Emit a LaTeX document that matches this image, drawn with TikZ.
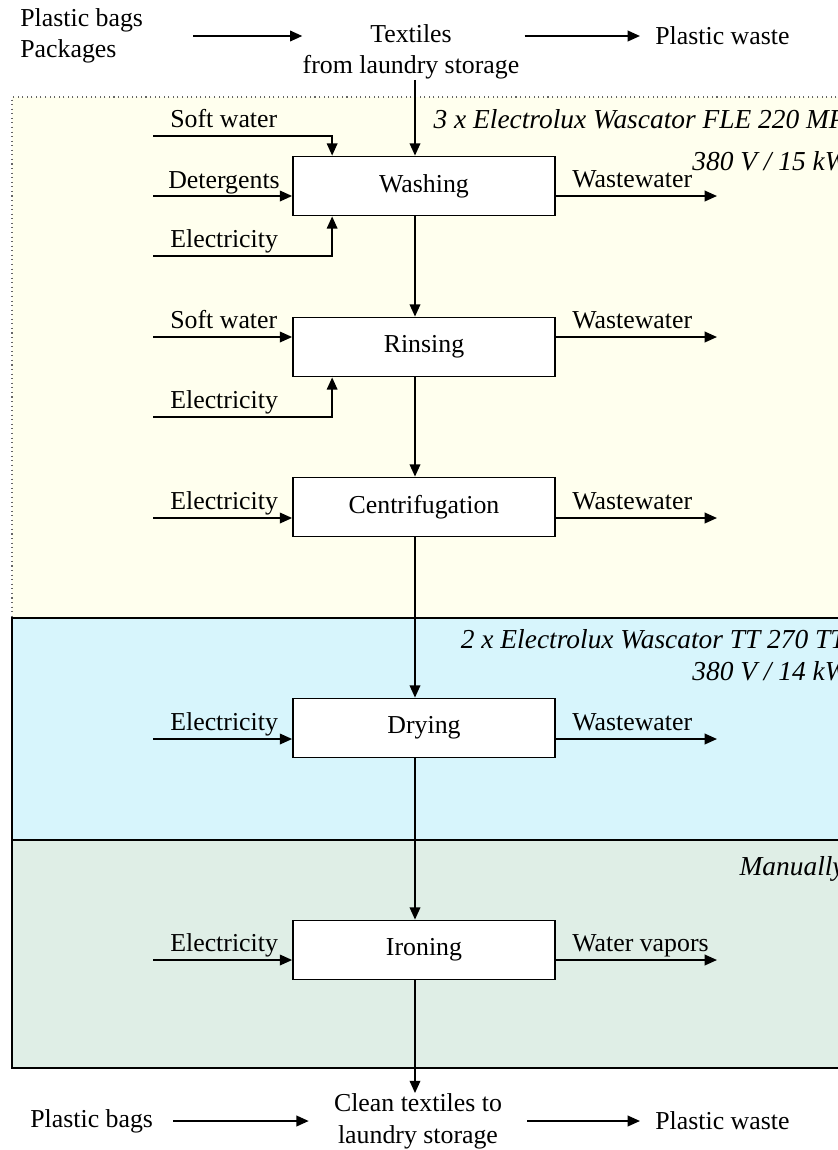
\documentclass[tikz,border=0pt]{standalone}
\usepackage{fontspec}
\setmainfont{Liberation Serif}
\usetikzlibrary{arrows.meta,positioning}
\definecolor{zoneWash}{RGB}{255,255,238}
\definecolor{zoneDry}{RGB}{215,245,252}
\definecolor{zoneIron}{RGB}{223,238,230}
\newcommand{\txtsize}{\fontsize{14.7}{18}\selectfont}
\newcommand{\notesize}{\fontsize{15.6}{18}\selectfont}
\tikzset{
  procbox/.style={draw,fill=white,line width=1pt,minimum width=5.24cm,minimum height=1.18cm,inner sep=0pt},
  flow/.style={line width=1.1pt,-{Triangle[length=7pt,width=6pt]}},
  lbl/.style={inner sep=0pt,anchor=base west},
  note/.style={inner sep=0pt,anchor=base east,font=\notesize\itshape}
}

\begin{document}
\begin{tikzpicture}[x=0.02cm,y=-0.02cm,font=\txtsize]
\useasboundingbox (0,0) rectangle (838,1150);

% zones
\fill[zoneWash] (12,97) rectangle (850,618);
\fill[zoneDry] (12,618) rectangle (850,840);
\fill[zoneIron] (12,840) rectangle (850,1068);
\draw[gray!80!black,dotted,line width=0.6pt] (850,97) -- (12,97) -- (12,618);
\draw[line width=0.8pt] (850,618) -- (12,618) -- (12,1068) -- (850,1068);
\draw[line width=0.8pt] (12,840) -- (850,840);

\node[note] (machWash) at (846,128) {3 x Electrolux Wascator FLE 220 MP};
\node[note] (powWash) at (848,170) {380 V / 15 kW};
\node[note] (machDry) at (846,648) {2 x Electrolux Wascator TT 270 TT};
\node[note] (powDry) at (848,680) {380 V / 14 kW};
\node[note] (manIron) at (845,875) {Manually};

% top row
\node[inner sep=0pt,anchor=west,align=left] (bagsIn) at (20,36) {Plastic bags\\Packages};
\node[inner sep=0pt,align=center] (textiles) at (411,52) {Textiles\\from laundry storage};
\node[inner sep=0pt,anchor=west] (wasteIn) at (655,36) {Plastic waste};
\draw[flow,shorten <=1cm] (bagsIn.east) -- (textiles.west |- bagsIn.east);
\draw[flow,shorten <=0.1cm,shorten >=0.3cm] (textiles.east |- wasteIn.west) -- (wasteIn.west);

% process steps
\node[procbox] (wash) at (424,186) {Washing};
\node[procbox] (rinse) at (424,347) {Rinsing};
\node[procbox] (centri) at (424,507) {Centrifugation};
\node[procbox] (dry) at (424,728) {Drying};
\node[procbox] (iron) at (424,950) {Ironing};

\coordinate (spine) at (415,0);
\draw[flow] (textiles.south -| spine) -- (wash.north -| spine);
\draw[flow] (wash.south -| spine) -- (rinse.north -| spine);
\draw[flow] (rinse.south -| spine) -- (centri.north -| spine);
\draw[flow] (centri.south -| spine) -- (dry.north -| spine);
\draw[flow] (dry.south -| spine) -- (iron.north -| spine);

% washing inputs
\coordinate (washSoft) at (153,136);
\coordinate (washDet) at (153,196);
\coordinate (washEl) at (153,256);
\node[lbl] (washSoftLbl) at (170,127) {Soft water};
\node[lbl] (washDetLbl) at (168,188) {Detergents};
\node[lbl] (washElLbl) at (170,247) {Electricity};
\draw[flow] (washSoft) -| ([xshift=0.8cm]wash.north west);
\draw[flow] (washDet) -- (washDet -| wash.west);
\draw[flow] (washEl) -| ([xshift=0.8cm]wash.south west);

% rinsing inputs
\coordinate (rinseSoft) at (153,337);
\coordinate (rinseEl) at (153,417);
\node[lbl] (rinseSoftLbl) at (170,328) {Soft water};
\node[lbl] (rinseElLbl) at (170,408) {Electricity};
\draw[flow] (rinseSoft) -- (rinseSoft -| rinse.west);
\draw[flow] (rinseEl) -| ([xshift=0.8cm]rinse.south west);

% single electricity inputs
\foreach \st/\yy in {centri/518, dry/739, iron/960}{
  \coordinate (\st El) at (153,\yy);
  \node[lbl] (\st ElLbl) at (170,\yy-9) {Electricity};
  \draw[flow] (\st El) -- (\st El -| \st.west);
}

% outputs
\foreach \st/\yy/\out in {wash/196/Wastewater, rinse/337/Wastewater, centri/518/Wastewater, dry/739/Wastewater, iron/960/Water vapors}{
  \coordinate (\st Out) at (717,\yy);
  \node[lbl] (\st OutLbl) at (572,\yy-9) {\out};
  \draw[flow] (\st Out -| \st.east) -- (\st Out);
}

% bottom row
\node[inner sep=0pt,align=center] (cleanOut) at (418,1121) {Clean textiles to\\laundry storage};
\node[inner sep=0pt,anchor=west] (bagsOut) at (30,1121) {Plastic bags};
\node[inner sep=0pt,anchor=west] (wasteOut) at (655,1121) {Plastic waste};
\draw[flow] (iron.south -| spine) -- (cleanOut.north -| spine);
\draw[flow,shorten <=0.4cm,shorten >=0.5cm] (bagsOut.east) -- (cleanOut.west |- bagsOut.east);
\draw[flow,shorten <=0.5cm,shorten >=0.3cm] (cleanOut.east |- wasteOut.west) -- (wasteOut.west);
\end{tikzpicture}
\end{document}
